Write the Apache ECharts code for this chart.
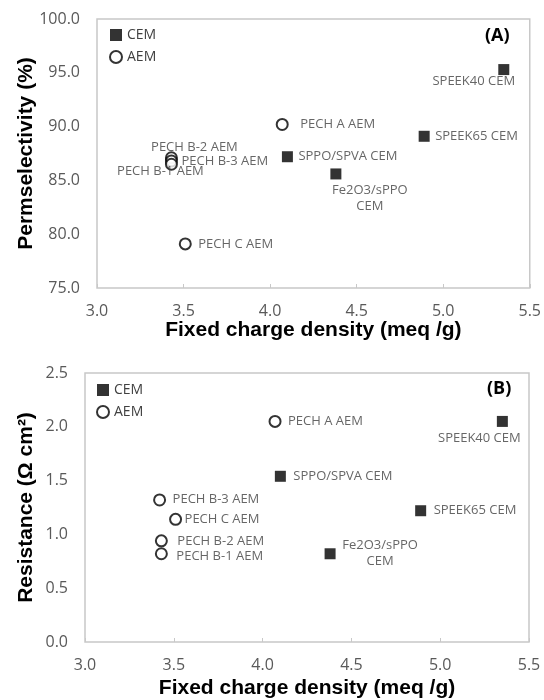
<!DOCTYPE html>
<html>
<head>
<meta charset="utf-8">
<script src="https://cdn.jsdelivr.net/npm/echarts@6/dist/echarts.min.js"></script>
<style>html,body{margin:0;padding:0;background:#fff}#c{width:544px;height:700px}</style>
</head>
<body>
<div id="c"></div>
<script>
// ---- Data ----
const cemNames = ['SPEEK40 CEM', 'SPEEK65 CEM', 'SPPO/SPVA CEM', 'Fe2O3/sPPO CEM'];
const cemChargeA = [5.35, 4.89, 4.10, 4.38];
const cemPermA = [95.3, 89.1, 87.2, 85.6];
const aemNamesA = ['PECH A AEM', 'PECH B-2 AEM', 'PECH B-3 AEM', 'PECH B-1 AEM', 'PECH C AEM'];
const aemChargeA = [4.07, 3.43, 3.43, 3.43, 3.51];
const aemPermA = [90.2, 87.1, 86.8, 86.5, 79.1];

const cemChargeB = [5.35, 4.89, 4.10, 4.38];
const cemResB = [2.05, 1.22, 1.54, 0.82];
const aemNamesB = ['PECH A AEM', 'PECH B-3 AEM', 'PECH C AEM', 'PECH B-2 AEM', 'PECH B-1 AEM'];
const aemChargeB = [4.07, 3.42, 3.51, 3.43, 3.43];
const aemResB = [2.05, 1.32, 1.14, 0.94, 0.82];

const xTicks = [3.0, 3.5, 4.0, 4.5, 5.0, 5.5];
const yTicksA = [75, 80, 85, 90, 95, 100];
const yTicksB = [0, 0.5, 1.0, 1.5, 2.0, 2.5];

// ---- Label placement (styling) ----
const placeA = {
  'SPEEK40 CEM': {align: 'center', offset: [-30, 12]},
  'SPEEK65 CEM': {align: 'left', offset: [11, 0]},
  'SPPO/SPVA CEM': {align: 'left', offset: [11, 0]},
  'Fe2O3/sPPO CEM': {align: 'center', offset: [34, 24], text: 'Fe2O3/sPPO\nCEM'},
  'PECH A AEM': {align: 'left', offset: [18, 0]},
  'PECH B-2 AEM': {align: 'center', offset: [23, -11]},
  'PECH B-3 AEM': {align: 'left', offset: [10, 0]},
  'PECH B-1 AEM': {align: 'center', offset: [-11, 7]},
  'PECH C AEM': {align: 'left', offset: [13, 0]}
};
const placeB = {
  'SPEEK40 CEM': {align: 'center', offset: [-23, 17]},
  'SPEEK65 CEM': {align: 'left', offset: [13, 0]},
  'SPPO/SPVA CEM': {align: 'left', offset: [13, 0]},
  'Fe2O3/sPPO CEM': {align: 'center', offset: [50, 0], text: 'Fe2O3/sPPO\nCEM'},
  'PECH A AEM': {align: 'left', offset: [13, 0]},
  'PECH B-3 AEM': {align: 'left', offset: [13, -1]},
  'PECH C AEM': {align: 'left', offset: [9, 0]},
  'PECH B-2 AEM': {align: 'left', offset: [16, 0]},
  'PECH B-1 AEM': {align: 'left', offset: [15, 3]}
};

const labelFont = {fontFamily: 'Open Sans', fontSize: 13, color: '#404040', lineHeight: 16};

function points(names, xs, ys, place) {
  return names.map((n, i) => {
    const p = place[n];
    return {
      name: n,
      value: [xs[i], ys[i]],
      label: Object.assign({
        show: true, position: 'inside', align: p.align, verticalAlign: 'middle',
        offset: p.offset, formatter: p.text || n
      }, labelFont)
    };
  });
}

const cemStyle = {color: '#000', borderWidth: 0};
const aemStyle = {color: '#fff', borderColor: '#000', borderWidth: 2};

const axisLabelStyle = {color: '#595959', fontFamily: 'Open Sans', fontSize: 16};
const nameStyle = {color: '#000', fontFamily: 'Liberation Sans', fontWeight: 'bold', fontSize: 21};

function xAxis(gridIndex, gap) {
  return {
    type: 'value', gridIndex, min: 3.0, max: 5.5, interval: 0.5,
    name: 'Fixed charge density (meq /g)', nameLocation: 'middle', nameGap: gap,
    nameTextStyle: nameStyle,
    axisLine: {show: false}, splitLine: {show: false},
    axisTick: {show: true, inside: true, length: 4, lineStyle: {color: '#c8c8c8'}},
    axisLabel: Object.assign({margin: 15, formatter: v => v.toFixed(1)}, axisLabelStyle)
  };
}

const chart = echarts.init(document.getElementById('c'));
chart.setOption({
  animation: false,
  backgroundColor: '#fff',
  grid: [
    {left: 97, top: 19, width: 433, height: 269, show: true, borderColor: '#c8c8c8', borderWidth: 1.5},
    {left: 85, top: 373, width: 444, height: 269, show: true, borderColor: '#c8c8c8', borderWidth: 1.5}
  ],
  legend: [
    {data: ['CEM', 'AEM'], orient: 'vertical', left: 109, top: 28, padding: 0, itemGap: 8,
     itemWidth: 12, itemHeight: 12, textStyle: {fontFamily: 'Open Sans', fontSize: 14, color: '#404040'}},
    {data: ['CEM', 'AEM'], orient: 'vertical', left: 96, top: 383, padding: 0, itemGap: 8,
     itemWidth: 12, itemHeight: 12, textStyle: {fontFamily: 'Open Sans', fontSize: 14, color: '#404040'}}
  ],
  xAxis: [xAxis(0, 31), xAxis(1, 36)],
  yAxis: [
    {type: 'value', gridIndex: 0, min: yTicksA[0], max: yTicksA[yTicksA.length - 1], interval: 5,
     name: 'Permselectivity (%)', nameLocation: 'middle', nameGap: 60, nameMoveOverlap: false,
     nameTextStyle: nameStyle,
     axisLine: {show: false}, splitLine: {show: false}, axisTick: {show: false},
     axisLabel: Object.assign({margin: 17, formatter: v => v.toFixed(1)}, axisLabelStyle)},
    {type: 'value', gridIndex: 1, min: yTicksB[0], max: yTicksB[yTicksB.length - 1], interval: 0.5,
     name: 'Resistance (Ω cm²)', nameLocation: 'middle', nameGap: 48, nameMoveOverlap: false,
     nameTextStyle: nameStyle,
     axisLine: {show: false}, splitLine: {show: false}, axisTick: {show: false},
     axisLabel: Object.assign({margin: 17, formatter: v => v.toFixed(1)}, axisLabelStyle)}
  ],
  series: [
    {name: 'CEM', type: 'scatter', xAxisIndex: 0, yAxisIndex: 0, symbol: 'rect', symbolSize: 11,
     itemStyle: cemStyle, data: points(cemNames, cemChargeA, cemPermA, placeA)},
    {name: 'AEM', type: 'scatter', xAxisIndex: 0, yAxisIndex: 0, symbol: 'circle', symbolSize: 11,
     itemStyle: aemStyle, data: points(aemNamesA, aemChargeA, aemPermA, placeA)},
    {name: 'CEM', type: 'scatter', xAxisIndex: 1, yAxisIndex: 1, symbol: 'rect', symbolSize: 11,
     itemStyle: cemStyle, data: points(cemNames, cemChargeB, cemResB, placeB)},
    {name: 'AEM', type: 'scatter', xAxisIndex: 1, yAxisIndex: 1, symbol: 'circle', symbolSize: 11,
     itemStyle: aemStyle, data: points(aemNamesB, aemChargeB, aemResB, placeB)}
  ],
  graphic: [
    {type: 'text', left: 485, top: 27, style: {text: '(A)', font: 'bold 18px "Open Sans"', fill: '#000'}},
    {type: 'text', left: 487, top: 380, style: {text: '(B)', font: 'bold 18px "Open Sans"', fill: '#000'}}
  ]
});
</script>
</body>
</html>
